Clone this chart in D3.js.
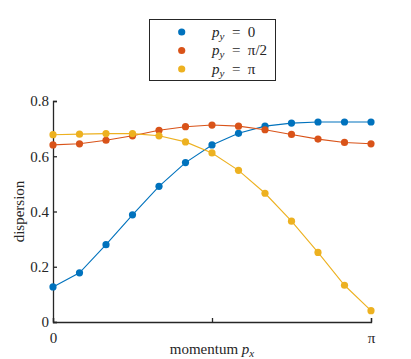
<!DOCTYPE html>
<html>
<head>
<meta charset="utf-8">
<script src="https://cdn.jsdelivr.net/npm/d3@7"></script>
<style>
  body { margin: 0; background: #fff; }
</style>
</head>
<body>
<div id="chart"></div>
<script>
// momentum p_x from 0 to pi in 12 steps
const steps = d3.range(13);
const pxValues = steps.map(i => i * Math.PI / 12);

// dispersion
const py0 = [0.127, 0.178, 0.280, 0.388, 0.491, 0.577, 0.641, 0.683, 0.709, 0.720, 0.724, 0.724, 0.724];
const pyHalfPi = [0.641, 0.645, 0.658, 0.674, 0.694, 0.707, 0.713, 0.709, 0.696, 0.679, 0.662, 0.650, 0.645];
const pyPi = [0.678, 0.680, 0.682, 0.682, 0.674, 0.652, 0.612, 0.549, 0.466, 0.365, 0.252, 0.133, 0.041];

const seriesNames = ["0", "\u03C0/2", "\u03C0"];
const seriesColors = ["#0072BD", "#D95319", "#EDB120"];
const yTicks = [0, 0.2, 0.4, 0.6, 0.8];
const xTicks = [0, Math.PI / 2, Math.PI];
const xTickLabels = ["0", "", "\u03C0"];

const series = [py0, pyHalfPi, pyPi];

const serif = "'Liberation Serif', 'Times New Roman', 'DejaVu Serif', serif";
const width = 411, height = 359;
const margin = {top: 101, right: 40, bottom: 37, left: 53};

const svg = d3.select("#chart").append("svg")
    .attr("width", width)
    .attr("height", height)
    .attr("font-family", serif);

const x = d3.scaleLinear()
    .domain([0, Math.PI])
    .range([margin.left, width - margin.right]);

const y = d3.scaleLinear()
    .domain([0, 0.8])
    .range([height - margin.bottom, margin.top]);

// axes, ticks pointing inward like matlab
const xAxis = svg.append("g")
    .attr("transform", `translate(0,${height - margin.bottom})`)
    .call(d3.axisBottom(x).tickValues(xTicks).tickFormat((d, i) => xTickLabels[i]).tickSize(-4).tickPadding(8));

const yAxis = svg.append("g")
    .attr("transform", `translate(${margin.left},0)`)
    .call(d3.axisLeft(y).tickValues(yTicks).tickFormat(d => d === 0 ? "0" : d3.format(".1f")(d)).tickSize(-4).tickPadding(4));

[xAxis, yAxis].forEach(ax => {
    ax.attr("font-family", serif);
    ax.select(".domain").attr("stroke", "#262626").attr("stroke-width", 1.3);
    ax.selectAll(".tick line").attr("stroke", "#262626").attr("stroke-width", 1.3);
    ax.selectAll(".tick text").style("font-size", "15px").style("font-family", serif).attr("fill", "#262626");
});
xAxis.selectAll(".tick text").attr("dy", "0.85em");

const line = d3.line()
    .x((d, i) => x(pxValues[i]))
    .y(d => y(d));

series.forEach((vals, k) => {
    const g = svg.append("g");
    g.append("path")
        .datum(vals)
        .attr("d", line)
        .attr("fill", "none")
        .attr("stroke", seriesColors[k])
        .attr("stroke-width", 1.1);
    g.selectAll("circle")
        .data(vals)
        .enter()
        .append("circle")
        .attr("cx", (d, i) => x(pxValues[i]))
        .attr("cy", d => y(d))
        .attr("r", 3.6)
        .attr("fill", seriesColors[k]);
});

// axis labels
svg.append("text")
    .attr("transform", `translate(24,${y(0.4)}) rotate(-90)`)
    .attr("text-anchor", "middle")
    .style("font-family", serif)
    .style("font-size", "15px")
    .attr("fill", "#262626")
    .text("dispersion");

const xl = svg.append("text")
    .attr("x", x(Math.PI / 2))
    .attr("y", 354)
    .attr("text-anchor", "middle")
    .style("font-family", serif)
    .attr("fill", "#262626")
    .style("font-size", "15px");
xl.append("tspan").text("momentum ");
xl.append("tspan").style("font-style", "italic").text("p");
xl.append("tspan").attr("dy", 3).style("font-size", "11px").style("font-style", "italic").text("x");

// legend
const legend = svg.append("g");
legend.append("rect")
    .attr("x", 149.5).attr("y", 19.5)
    .attr("width", 126).attr("height", 61)
    .attr("fill", "#fff")
    .attr("stroke", "#262626")
    .attr("stroke-width", 1);

seriesNames.forEach((name, k) => {
    const cy = 32 + k * 18.5;
    legend.append("circle")
        .attr("cx", 181.7).attr("cy", cy).attr("r", 3.6)
        .attr("fill", seriesColors[k]);
    const t = legend.append("text")
        .attr("x", 212).attr("y", cy + 4.5)
        .style("font-family", serif)
        .attr("fill", "#262626")
        .style("font-size", "15px");
    t.append("tspan").style("font-style", "italic").text("p");
    t.append("tspan").attr("dy", 3).style("font-size", "11px").style("font-style", "italic").text("y");
    t.append("tspan").attr("dy", -3).text("\u2002=\u2002" + name);
});
</script>
</body>
</html>
